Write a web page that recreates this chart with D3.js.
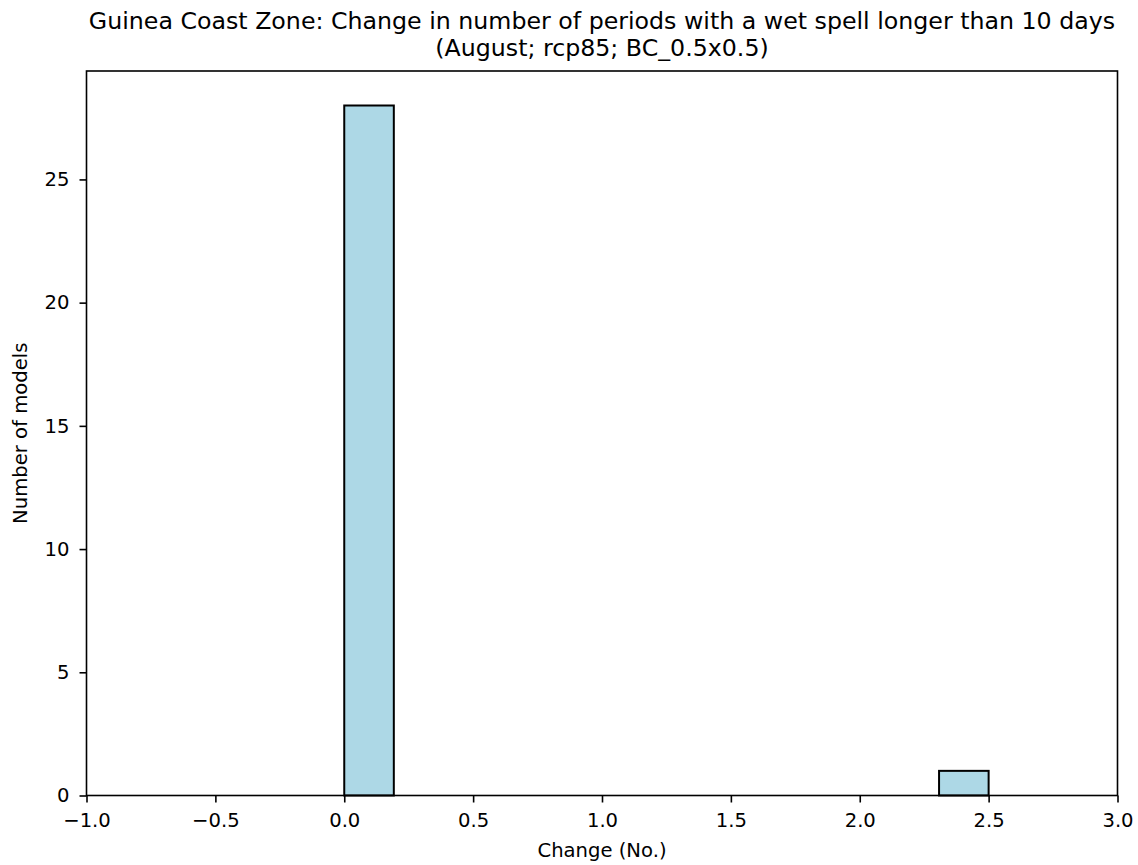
<!DOCTYPE html>
<html>
<head>
<meta charset="utf-8">
<script src="https://cdn.jsdelivr.net/npm/d3@7"></script>
<style>
  html, body { margin: 0; padding: 0; background: #fff; }
  svg { display: block; }
  text { font-family: "DejaVu Sans", sans-serif; fill: #000; }
</style>
</head>
<body>
<svg id="chart" width="1138" height="865"></svg>
<script>
// Data
const titleLines = ["Guinea Coast Zone: Change in number of periods with a wet spell longer than 10 days",
                    "(August; rcp85; BC_0.5x0.5)"];
const xLabel = "Change (No.)";
const yLabel = "Number of models";
const binStart = 0.0;
const binEnd = 2.5;
const binCounts = [28, 0, 0, 0, 0, 0, 0, 0, 0, 0, 0, 0, 1];
const xTicks = [-1.0, -0.5, 0.0, 0.5, 1.0, 1.5, 2.0, 2.5, 3.0];
const yTicks = [0, 5, 10, 15, 20, 25];
const xDomain = [-1.0, 3.0];
const yDomain = [0, 29.4];

const svg = d3.select("#chart");
const m = {left: 86.5, right: 1117.5, top: 71, bottom: 795.5};

const x = d3.scaleLinear().domain(xDomain).range([m.left, m.right]);
const y = d3.scaleLinear().domain(yDomain).range([m.bottom, m.top]);

const nb = binCounts.length;
const bw = (binEnd - binStart) / nb;
const bins = binCounts.map((c, i) => ({x0: binStart + i * bw, x1: binStart + (i + 1) * bw, c}));

svg.append("g").selectAll("rect")
  .data(bins.filter(d => d.c > 0))
  .join("rect")
  .attr("x", d => x(d.x0))
  .attr("y", d => y(d.c))
  .attr("width", d => x(d.x1) - x(d.x0))
  .attr("height", d => y(0) - y(d.c))
  .attr("fill", "#ADD8E6")
  .attr("stroke", "#000")
  .attr("stroke-width", 2);

// Axes
const xAxis = d3.axisBottom(x).tickValues(xTicks).tickSize(7).tickPadding(11)
  .tickFormat(d => d3.format(".1f")(d).replace("-", "\u2212"));
const yAxis = d3.axisLeft(y).tickValues(yTicks).tickSize(7).tickPadding(10)
  .tickFormat(d3.format("d"));

const gx = svg.append("g").attr("transform", `translate(0,${m.bottom})`).call(xAxis);
const gy = svg.append("g").attr("transform", `translate(${m.left},0)`).call(yAxis);
[gx, gy].forEach(g => {
  g.select(".domain").remove();
  g.selectAll("line").attr("stroke", "#000").attr("stroke-width", 1.6);
  g.selectAll("text").attr("font-size", 19.6).attr("font-family", "DejaVu Sans, sans-serif").attr("fill", "#000");
});

// Frame
svg.append("rect")
  .attr("x", m.left).attr("y", m.top)
  .attr("width", m.right - m.left).attr("height", m.bottom - m.top)
  .attr("fill", "none").attr("stroke", "#000").attr("stroke-width", 1.6);

// Titles
svg.append("text").attr("x", (m.left + m.right) / 2).attr("y", 29)
  .attr("text-anchor", "middle").attr("font-size", 23.7).text(titleLines[0]);
svg.append("text").attr("x", (m.left + m.right) / 2).attr("y", 56)
  .attr("text-anchor", "middle").attr("font-size", 23.7).text(titleLines[1]);

svg.append("text").attr("x", (m.left + m.right) / 2).attr("y", 857)
  .attr("text-anchor", "middle").attr("font-size", 19.6).text(xLabel);
svg.append("text").attr("transform", `translate(27,${(m.top + m.bottom) / 2}) rotate(-90)`)
  .attr("text-anchor", "middle").attr("font-size", 19.6).text(yLabel);
</script>
</body>
</html>
